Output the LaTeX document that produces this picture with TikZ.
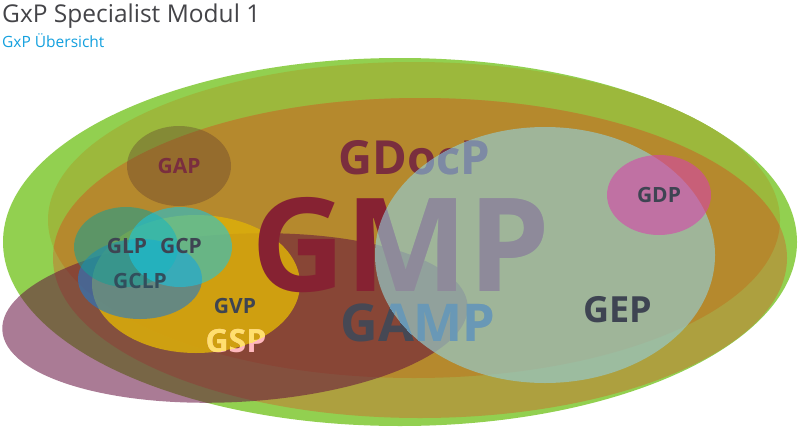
\documentclass[tikz,border=0pt]{standalone}
\usepackage{fontspec}
\setmainfont{Open Sans}
\definecolor{gxpgreen}{RGB}{146,208,80}
\definecolor{gxpolive}{RGB}{156,184,60}
\definecolor{gxpgold}{RGB}{173,160,63}
\definecolor{gxporange}{RGB}{181,137,45}
\definecolor{gxppurple}{RGB}{100,15,62}
\definecolor{gxpyellow}{RGB}{220,175,10}
\definecolor{gxpteal}{RGB}{20,160,150}
\definecolor{gxpcyan}{RGB}{20,200,230}
\definecolor{gxpblue}{RGB}{33,122,204}
\definecolor{gxpbrown}{RGB}{90,55,45}
\definecolor{gxpgrey}{RGB}{150,200,200}
\definecolor{gxppink}{RGB}{214,68,170}
\definecolor{titlegrey}{RGB}{68,68,72}
\definecolor{subblue}{RGB}{20,160,222}
\definecolor{slate}{RGB}{62,68,82}
\definecolor{wine}{RGB}{122,46,62}
\definecolor{gmpred}{RGB}{134,34,50}
\begin{document}
\begin{tikzpicture}[x=1pt,y=-1pt,
	lbl/.style={inner sep=0pt, font=\bfseries\fontsize{21}{21}\selectfont, text=slate},
	big/.style={inner sep=0pt, font=\bfseries\fontsize{#1}{#1}\selectfont}]
	\useasboundingbox (0,0) rectangle (799,428);
	% title
	\node[anchor=base west, inner sep=0pt, text=titlegrey, font=\fontsize{24.5}{24.5}\selectfont] (title) at (2,23) {GxP Specialist Modul 1};
	\node[anchor=base west, inner sep=0pt, text=subblue, font=\fontsize{15.5}{15.5}\selectfont] (subtitle) at (2,48) {GxP Übersicht};
	% green and the two GMP halves
	\fill[gxpgreen] (400,242) ellipse [x radius=397, y radius=184];
	\fill[gxpolive] (414,220) ellipse [x radius=366, y radius=158];
	\fill[gxpgold]  (420,258) ellipse [x radius=367, y radius=160];
	\begin{scope}
		\clip (414,220) ellipse [x radius=366, y radius=158];
		\fill[gxporange] (420,258) ellipse [x radius=367, y radius=160];
	\end{scope}
	% GAP
	\fill[gxpbrown, fill opacity=.35] (179,166) ellipse [x radius=52, y radius=40];
	% purple
	\fill[gxppurple, fill opacity=.55, rotate around={3:(235,318)}] (235,318) ellipse [x radius=233, y radius=84];
	% GSP and the lab ellipses
	\fill[gxpyellow, fill opacity=.85] (196,284) ellipse [x radius=104, y radius=69];
	\fill[gxpblue, fill opacity=.6] (140,279) ellipse [x radius=62, y radius=40];
	\fill[gxpteal, fill opacity=.55] (126,247) ellipse [x radius=52, y radius=40];
	\fill[gxpcyan, fill opacity=.55] (180,247) ellipse [x radius=52, y radius=40];
	% big words
	\node[big=130, text=gmpred] (gmp) at (401,245) {GMP};
	\node[big=47, text=wine] (gdocp) at (414,158) {GDocP};
	\node[big=52, text={rgb,255:red,70;green,72;blue,84}] (gamp) at (418,323) {GAMP};
	% GEP
	\fill[gxpgrey, fill opacity=.7] (545,255) ellipse [x radius=170, y radius=128];
	\begin{scope}
		\clip (545,255) ellipse [x radius=170, y radius=128];
		\node[big=130, text={rgb,255:red,142;green,138;blue,154}] (gmpE) at (401,245) {GMP};
		\node[big=47, text={rgb,255:red,125;green,138;blue,164}] (gdocpE) at (414,158) {GDocP};
		\node[big=52, text={rgb,255:red,105;green,152;blue,182}] (gampE) at (418,323) {GAMP};
	\end{scope}
	% GDP
	\fill[gxppink, fill opacity=.6] (659,195) ellipse [x radius=52, y radius=40];
	% labels
	\node[lbl, text=wine] (gap) at (179,166) {GAP};
	\node[lbl] (glp) at (127,246) {GLP};
	\node[lbl] (gcp) at (181,246) {GCP};
	\node[lbl, text={rgb,255:red,50;green,78;blue,92}] (gclp) at (140,281) {GCLP};
	\node[lbl] (gvp) at (235,306) {GVP};
	\node[lbl] (gdp) at (659,195) {GDP};
	\node[big=36, text=slate] (gep) at (618,310) {GEP};
	\node[big=32, text={rgb,255:red,255;green,184;blue,190}] (gsp) at (236,341) {GSP};
	\begin{scope}
		\clip (196,284) ellipse [x radius=104, y radius=69];
		\node[big=32, text={rgb,255:red,255;green,224;blue,110}] (gspY) at (236,341) {GSP};
	\end{scope}
\end{tikzpicture}
\end{document}
